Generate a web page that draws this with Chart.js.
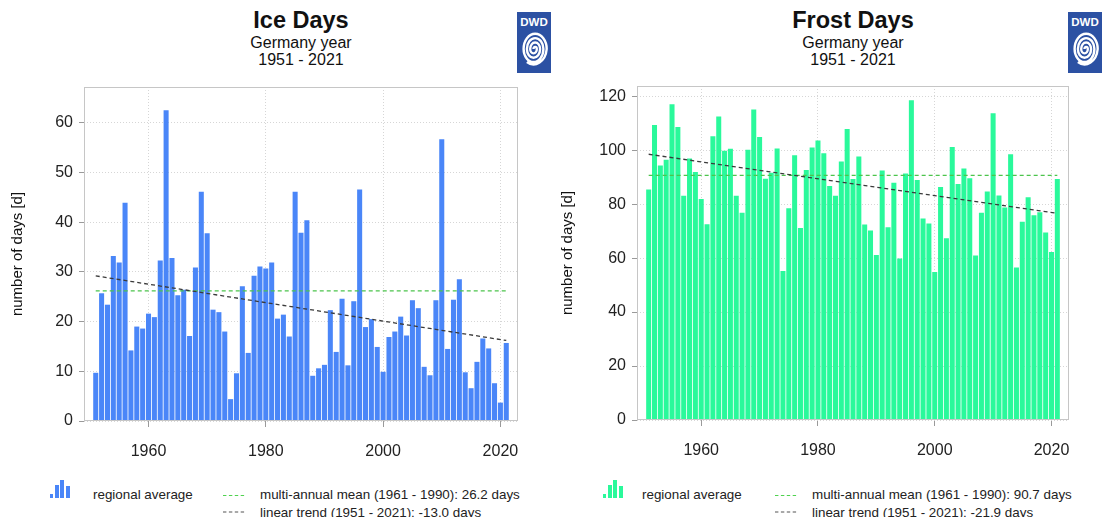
<!DOCTYPE html>
<html><head><meta charset="utf-8">
<script src="https://cdn.jsdelivr.net/npm/chart.js@4.4.0/dist/chart.umd.min.js"></script>
<style>
body{margin:0;background:#fff;font-family:"Liberation Sans",Arial,Helvetica,sans-serif;color:#111;}
#page{position:relative;width:1102px;height:517px;overflow:hidden;background:#fff;}
.abs{position:absolute;white-space:nowrap;}
.title{font-weight:bold;font-size:23.5px;line-height:23px;text-align:center;width:300px;}
.sub{font-size:16px;line-height:17px;text-align:center;width:300px;}
.leg{font-size:13.4px;line-height:13px;color:#222;}
.ib{position:absolute;bottom:0;}
canvas{position:absolute;}
</style></head>
<body><div id="page">
<canvas id="ice" width="551" height="380" style="left:0;top:80px;"></canvas>
<canvas id="frost" width="551" height="380" style="left:551px;top:80px;"></canvas>

<div class="abs title" style="left:151px;top:9px;">Ice Days</div>
<div class="abs sub" style="left:151px;top:34px;">Germany year<br>1951 - 2021</div>
<div class="abs title" style="left:703px;top:9px;">Frost Days</div>
<div class="abs sub" style="left:703px;top:34px;">Germany year<br>1951 - 2021</div>

<svg class="abs" style="left:517px;top:12px" width="34" height="61" viewBox="0 0 34 61">
<rect width="34" height="61" fill="#2c51a3"/>
<text x="17" y="14" font-family="Liberation Sans, Arial" font-weight="bold" font-size="11.5" fill="#fff" text-anchor="middle">DWD</text>
<g transform="translate(16.5,37) scale(1.1,1.45)"><path d="M0 0 a1.5 1.5 0 0 1 3 0 a3 3 0 0 1 -6 0 a4.5 4.5 0 0 1 9 0 a6 6 0 0 1 -12 0 a7.5 7.5 0 0 1 15 0 a9 9 0 0 1 -18 0 a10.5 10.5 0 0 1 21 0 a12 12 0 0 1 -18 9" fill="none" stroke="#fff" stroke-width="2.4" vector-effect="non-scaling-stroke"/></g>
</svg>
<svg class="abs" style="left:1068px;top:12px" width="34" height="61" viewBox="0 0 34 61">
<rect width="34" height="61" fill="#2c51a3"/>
<text x="17" y="14" font-family="Liberation Sans, Arial" font-weight="bold" font-size="11.5" fill="#fff" text-anchor="middle">DWD</text>
<g transform="translate(16.5,37) scale(1.1,1.45)"><path d="M0 0 a1.5 1.5 0 0 1 3 0 a3 3 0 0 1 -6 0 a4.5 4.5 0 0 1 9 0 a6 6 0 0 1 -12 0 a7.5 7.5 0 0 1 15 0 a9 9 0 0 1 -18 0 a10.5 10.5 0 0 1 21 0 a12 12 0 0 1 -18 9" fill="none" stroke="#fff" stroke-width="2.4" vector-effect="non-scaling-stroke"/></g>
</svg>

<!-- legends -->
<div class="abs" style="left:50px;top:478px;width:21px;height:20px;">
  <div class="ib" style="left:0;width:3px;height:4px;background:#4a86f8"></div>
  <div class="ib" style="left:5px;width:4px;height:13px;background:#4a86f8"></div>
  <div class="ib" style="left:10px;width:4px;height:18px;background:#4a86f8"></div>
  <div class="ib" style="left:16px;width:4px;height:12px;background:#4a86f8"></div>
</div>
<div class="abs leg" style="left:93px;top:488px;">regional average</div>
<svg class="abs" style="left:222px;top:490px" width="26" height="26"><line x1="1" y1="5.5" x2="24" y2="5.5" stroke="#4fd24f" stroke-width="1.1" stroke-dasharray="3.4 2.5"/><line x1="1" y1="22" x2="24" y2="22" stroke="#555" stroke-width="1.1" stroke-dasharray="3.4 2.5"/></svg>
<div class="abs leg" style="left:260px;top:488px;">multi-annual mean (1961 - 1990): 26.2 days</div>
<div class="abs leg" style="left:260px;top:506px;">linear trend (1951 - 2021): -13.0 days</div>

<div class="abs" style="left:603px;top:478px;width:21px;height:20px;">
  <div class="ib" style="left:0;width:3px;height:4px;background:#2af99b"></div>
  <div class="ib" style="left:5px;width:4px;height:13px;background:#2af99b"></div>
  <div class="ib" style="left:10px;width:4px;height:18px;background:#2af99b"></div>
  <div class="ib" style="left:16px;width:4px;height:12px;background:#2af99b"></div>
</div>
<div class="abs leg" style="left:642px;top:488px;">regional average</div>
<svg class="abs" style="left:774px;top:490px" width="26" height="26"><line x1="1" y1="5.5" x2="24" y2="5.5" stroke="#4fd24f" stroke-width="1.1" stroke-dasharray="3.4 2.5"/><line x1="1" y1="22" x2="24" y2="22" stroke="#555" stroke-width="1.1" stroke-dasharray="3.4 2.5"/></svg>
<div class="abs leg" style="left:812px;top:488px;">multi-annual mean (1961 - 1990): 90.7 days</div>
<div class="abs leg" style="left:812px;top:506px;">linear trend (1951 - 2021): -21.9 days</div>
</div>

<script>
const years = [1951,1952,1953,1954,1955,1956,1957,1958,1959,1960,1961,1962,1963,1964,1965,1966,1967,1968,1969,1970,
1971,1972,1973,1974,1975,1976,1977,1978,1979,1980,1981,1982,1983,1984,1985,1986,1987,1988,1989,1990,
1991,1992,1993,1994,1995,1996,1997,1998,1999,2000,2001,2002,2003,2004,2005,2006,2007,2008,2009,2010,
2011,2012,2013,2014,2015,2016,2017,2018,2019,2020,2021];

const iceDays = [9.7,25.7,23.4,33.2,31.9,43.9,14.2,19.0,18.6,21.6,20.9,32.3,62.5,32.8,25.3,26.4,17.1,30.9,46.1,37.8,
22.4,21.9,18.0,4.4,9.6,27.1,13.7,29.2,31.1,30.7,31.9,20.6,21.4,17.0,46.1,37.9,40.4,9.1,10.6,11.3,
22.3,13.9,24.6,11.2,24.1,46.6,18.9,20.5,14.9,9.9,16.9,18.0,21.0,17.2,24.3,22.7,10.9,9.2,24.3,56.7,
14.5,24.4,28.5,9.8,6.6,11.9,16.6,14.6,7.6,3.7,15.7];

const frostDays = [85.4,109.3,94.3,96.5,117.0,108.6,83.1,96.9,91.9,81.9,72.6,105.2,112.5,99.8,100.5,83.1,76.8,100.2,115.1,104.9,
89.4,91.6,100.6,55.2,78.5,98.1,71.2,92.7,101.0,103.6,98.9,86.7,83.1,95.8,107.9,89.3,97.7,72.5,70.2,61.2,
92.5,71.4,87.9,59.9,91.4,118.5,89.0,74.7,72.8,54.9,86.4,67.4,101.2,87.5,93.2,89.6,61.0,76.8,84.7,113.7,
83.2,78.8,98.5,56.5,73.5,82.6,75.9,77.0,69.5,62.3,89.3];

const iceMean = [26.2, 26.2];        // 1961-1990 mean, drawn 1951..2021
const iceTrend = [29.2, 16.2];       // linear trend at 1951 and 2021
const frostMean = [90.7, 90.7];
const frostTrend = [98.5, 76.6];
const lineYears = [1951, 2021];

const xTicks = [1960, 1980, 2000, 2020];
const iceYTicks = [0, 10, 20, 30, 40, 50, 60];
const frostYTicks = [0, 20, 40, 60, 80, 100, 120];

const FONT = '"Liberation Sans", Arial, Helvetica, sans-serif';

const framePlugin = {
  id: 'frame',
  afterDatasetsDraw(chart) {
    const {ctx, chartArea: a} = chart;
    ctx.save();
    ctx.strokeStyle = '#c6c6c6';
    ctx.lineWidth = 1;
    ctx.strokeRect(Math.round(a.left) + 0.5, Math.round(a.top) + 0.5,
                   Math.round(a.right - a.left) - 1, Math.round(a.bottom - a.top) - 1);
    ctx.restore();
  }
};

function makeChart(id, values, color, mean, trend, yMax, yTicks, opt) {
  const pts = (ys) => lineYears.map((x, i) => ({x, y: ys[i]}));
  return new Chart(document.getElementById(id), {
    type: 'bar',
    data: {
      datasets: [
        {type: 'line', data: pts(trend), borderColor: '#3a3a3a', borderWidth: 1.3,
         borderDash: [4, 3], pointRadius: 0, order: 0},
        {type: 'line', data: pts(mean), borderColor: '#4cc44c', borderWidth: 1.3,
         borderDash: [4, 3], pointRadius: 0, order: 1},
        {type: 'bar', data: years.map((x, i) => ({x, y: values[i]})), backgroundColor: color,
         borderWidth: 0, barPercentage: 0.86, categoryPercentage: 1.0, order: 2}
      ]
    },
    options: {
      responsive: false, maintainAspectRatio: false, animation: false,
      devicePixelRatio: 1,
      layout: {padding: {left: 0, right: 33, top: opt.top, bottom: 0}},
      plugins: {legend: {display: false}, tooltip: {enabled: false}},
      scales: {
        x: {
          type: 'linear', min: 1949, max: 2023, offset: false,
          grid: {offset: false, color: '#d6d6d6', tickColor: '#9a9a9a', tickLength: 6, drawTicks: true},
          border: {display: false, dash: [1, 2]},
          ticks: {font: {family: FONT, size: 16}, color: '#222', padding: 15, maxRotation: 0,
                  callback: (v) => String(v)},
          afterBuildTicks: (s) => { s.ticks = xTicks.map(v => ({value: v})); },
          afterFit: (s) => { s.height = opt.xh; s.paddingLeft = 0; s.paddingRight = 0; }
        },
        y: {
          min: 0, max: yMax,
          grid: {color: '#d6d6d6', tickColor: '#9a9a9a', tickLength: 5, drawTicks: true},
          border: {display: false, dash: [1, 2]},
          ticks: {font: {family: FONT, size: 16}, color: '#222', padding: 6, includeBounds: false},
          afterBuildTicks: (s) => { s.ticks = yTicks.map(v => ({value: v})); },
          afterFit: (s) => { s.width = opt.yw; s.paddingTop = 0; s.paddingBottom = 0; },
          title: {display: true, text: 'number of days [d]', font: {family: FONT, size: 15},
                  color: '#111', padding: {top: opt.tp, bottom: 0}}
        }
      }
    },
    plugins: [framePlugin]
  });
}

makeChart('ice', iceDays, '#4a86f8', iceMean, iceTrend, 67.2, iceYTicks, {top: 7, xh: 39, yw: 84, tp: 9});
makeChart('frost', frostDays, '#2af99b', frostMean, frostTrend, 123.8, frostYTicks, {top: 6, xh: 40, yw: 86, tp: 8});
</script>
</body></html>
